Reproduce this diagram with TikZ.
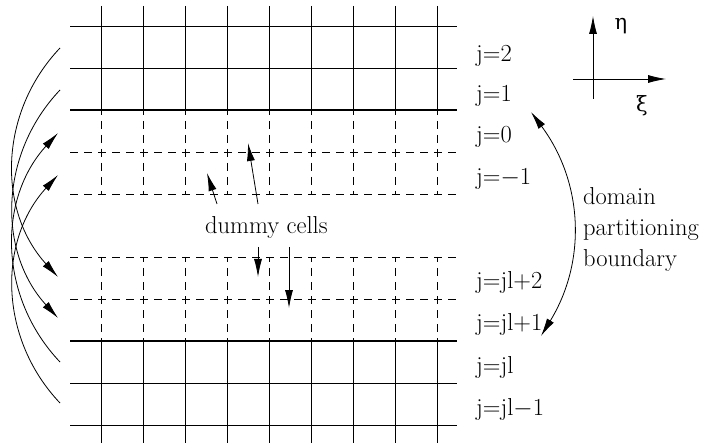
\documentclass[tikz,border=0pt]{standalone}
\usepackage{fontspec}
\newfontfamily\greekfont{DejaVu Serif}
\usetikzlibrary{arrows.meta}
\begin{document}
\begin{tikzpicture}[x=1pt,y=-1pt,
  gridline/.style={line width=0.9pt},
  thickline/.style={line width=1.8pt},
  dline/.style={line width=0.8pt, dash pattern=on 8pt off 6pt},
  arr/.style={line width=0.8pt,-{Latex[length=18pt,width=8pt]}},
  darr/.style={line width=0.8pt,{Latex[length=18pt,width=8pt]}-{Latex[length=18pt,width=8pt]}},
  txt/.style={inner sep=0pt, font=\fontsize{24.5}{31}\selectfont},
  lbl/.style={txt, anchor=base west},
  greek/.style={inner sep=0pt, font=\greekfont\fontsize{21}{26}\selectfont},
]
\useasboundingbox (0,0) rectangle (701,446);
% grid
\foreach \y in {26,68,383,425} \draw[gridline] (70,\y) -- (457,\y);
\foreach \y in {110,341} \draw[thickline] (70,\y) -- (457,\y);
\foreach \y in {152,194,257,299} \draw[dline] (70,\y) -- (457,\y);
\foreach \x in {101,143,...,437} {
  \draw[gridline] (\x,6) -- (\x,110);
  \draw[dline, dash phase=3pt] (\x,110) -- (\x,194);
  \draw[dline, dash phase=3pt] (\x,257) -- (\x,341);
  \draw[gridline] (\x,341) -- (\x,443);
}
% row labels
\node[lbl] (j2) at (476,62) {j=2};
\node[lbl] (j1) at (476,102) {j=1};
\node[lbl] (j0) at (476,143) {j=0};
\node[lbl] (jm1) at (476,185) {j=$-$1};
\node[lbl] (jl2) at (476,288) {j=jl+2};
\node[lbl] (jl1) at (476,330) {j=jl+1};
\node[lbl] (jl) at (476,373) {j=jl};
\node[lbl] (jlm1) at (476,415) {j=jl$-$1};
% axes
\coordinate (eb) at (593,99);
\coordinate (et) at (593,16);
\coordinate (xl) at (573,79);
\coordinate (xr) at (666,79);
\draw[arr] (eb) -- (et);
\draw[arr] (xl) -- (xr);
\node[greek] (eta) at (621,26) {η};
\node[greek] (xi) at (642,106) {ξ};
% domain partitioning boundary
\node[lbl] (dom) at (583,205) {domain};
\node[lbl] (part) at (583,236) {partitioning};
\node[lbl] (bnd) at (583,267) {boundary};
\coordinate (p1) at (531,112);
\coordinate (p2) at (541,336);
\draw[darr] (p1) to[bend left=34] (p2);
% dummy cells
\node[lbl] (dummy) at (205,234) {dummy cells};
\coordinate (t1) at (217,204); \coordinate (h1) at (207,173);
\coordinate (t2) at (258,204); \coordinate (h2) at (248,143);
\coordinate (t3) at (258,247); \coordinate (h3) at (258,277);
\coordinate (t4) at (289,247); \coordinate (h4) at (289,308);
\draw[arr] (t1) -- (h1);
\draw[arr] (t2) -- (h2);
\draw[arr] (t3) -- (h3);
\draw[arr] (t4) -- (h4);
% left arcs
\coordinate (a1) at (60,48);  \coordinate (b1) at (58,277);
\coordinate (a2) at (60,90);  \coordinate (b2) at (58,318);
\coordinate (a3) at (60,362); \coordinate (b3) at (58,133);
\coordinate (a4) at (60,403); \coordinate (b4) at (58,175);
\draw[arr] (a1) to[bend right=43] (b1);
\draw[arr] (a2) to[bend right=43] (b2);
\draw[arr] (a3) to[bend left=43] (b3);
\draw[arr] (a4) to[bend left=43] (b4);
\end{tikzpicture}
\end{document}
